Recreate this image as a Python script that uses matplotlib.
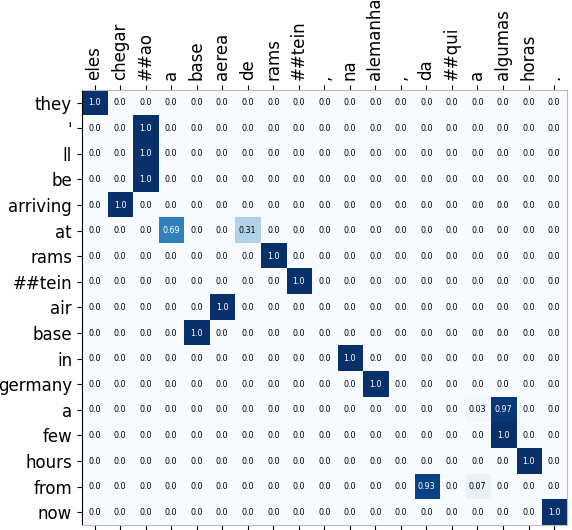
import numpy as np
import matplotlib
matplotlib.use('Agg')
import matplotlib.pyplot as plt

src = ['eles', 'chegar', '##ao', 'a', 'base', 'aerea', 'de', 'rams', '##tein', ',',
       'na', 'alemanha', ',', 'da', '##qui', 'a', 'algumas', 'horas', '.']
tgt = ['they', "'", 'll', 'be', 'arriving', 'at', 'rams', '##tein', 'air', 'base',
       'in', 'germany', 'a', 'few', 'hours', 'from', 'now']

# (row, col, weight) of non-zero attention
rows = [0, 1, 2, 3, 4, 5, 5, 6, 7, 8, 9, 10, 11, 12, 12, 13, 14, 15, 15, 16]
cols = [0, 2, 2, 2, 1, 3, 6, 7, 8, 5, 4, 10, 11, 15, 16, 16, 17, 13, 15, 18]
vals = [1.0, 1.0, 1.0, 1.0, 1.0, 0.69, 0.31, 1.0, 1.0, 1.0, 1.0, 1.0, 1.0,
        0.03, 0.97, 1.0, 1.0, 0.93, 0.07, 1.0]

att = np.zeros((len(tgt), len(src)))
att[rows, cols] = vals

fig = plt.figure(figsize=(5.72, 5.30), dpi=100)
ax = fig.add_axes([0.143, 0.0094, 0.848, 0.821])
ax.imshow(att, cmap='Blues', vmin=0, vmax=1, aspect='auto', interpolation='nearest')

for i in range(len(tgt)):
    for j in range(len(src)):
        v = att[i, j]
        s = '0.0' if v == 0 else ('1.0' if v == 1 else f'{v:.2f}')
        c = 'white' if v > 0.5 else 'black'
        ax.text(j, i, s, ha='center', va='center', fontsize=5.8, color=c)

ax.set_xticks(range(len(src)))
ax.set_xticklabels(src, rotation=90, fontsize=12)
ax.set_yticks(range(len(tgt)))
ax.set_yticklabels(tgt, fontsize=12)
ax.tick_params(axis='x', top=True, labeltop=True, bottom=True, labelbottom=False)

for side in ['top', 'bottom', 'right']:
    ax.spines[side].set_color('#bbbbbb')
ax.spines['left'].set_color('black')

plt.savefig('out.png', dpi=100)
